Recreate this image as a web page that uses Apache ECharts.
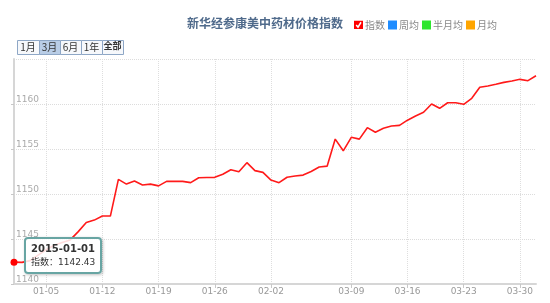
<!DOCTYPE html>
<html>
<head>
<meta charset="utf-8">
<script src="https://cdn.jsdelivr.net/npm/echarts@6/dist/echarts.min.js"></script>
<style>
html,body{margin:0;padding:0;background:#fff;}
#chart{width:550px;height:303px;}
</style>
</head>
<body>
<div id="chart"></div>
<script>
// ---- data ----
var titleText = '新华经参康美中药材价格指数';
var seriesNames = ['指数', '周均', '半月均', '月均'];
var rangeButtons = ['1月', '3月', '6月', '1年', '全部'];
var selectedRange = 1;
var dates = [
  '2015-01-01','2015-01-02','2015-01-03','2015-01-04','2015-01-05','2015-01-06','2015-01-07','2015-01-08',
  '2015-01-09','2015-01-10','2015-01-11','2015-01-12','2015-01-13','2015-01-14','2015-01-15','2015-01-16',
  '2015-01-17','2015-01-18','2015-01-19','2015-01-20','2015-01-21','2015-01-22','2015-01-23','2015-01-24',
  '2015-01-25','2015-01-26','2015-01-27','2015-01-28','2015-01-29','2015-01-30','2015-01-31','2015-02-01',
  '2015-02-02','2015-02-03','2015-02-04','2015-02-05','2015-02-06','2015-03-04','2015-03-05','2015-03-06',
  '2015-03-07','2015-03-08','2015-03-09','2015-03-10','2015-03-11','2015-03-12','2015-03-13','2015-03-14',
  '2015-03-15','2015-03-16','2015-03-17','2015-03-18','2015-03-19','2015-03-20','2015-03-21','2015-03-22',
  '2015-03-23','2015-03-24','2015-03-25','2015-03-26','2015-03-27','2015-03-28','2015-03-29','2015-03-30',
  '2015-03-31','2015-04-01'
];
var indexValues = [
  1142.43,1142.40,1142.60,1143.20,1143.80,1144.30,1144.60,1144.90,
  1145.82,1146.83,1147.10,1147.56,1147.55,1151.63,1151.10,1151.44,
  1151.00,1151.10,1150.90,1151.40,1151.40,1151.40,1151.26,1151.80,
  1151.83,1151.85,1152.20,1152.70,1152.48,1153.48,1152.60,1152.40,
  1151.55,1151.26,1151.86,1152.00,1152.10,1152.50,1153.00,1153.10,
  1156.10,1154.80,1156.30,1156.10,1157.37,1156.86,1157.30,1157.56,
  1157.63,1158.20,1158.67,1159.08,1160.00,1159.52,1160.14,1160.14,
  1159.97,1160.63,1161.86,1162.00,1162.19,1162.40,1162.56,1162.74,
  1162.59,1163.14
];
var tickLabels = ['01-05','01-12','01-19','01-26','02-02','03-09','03-16','03-23','03-30'];
var yMin = 1140, yMax = 1165, yStep = 5;
var highlightIndex = 0;

// ---- chart ----
var chart = echarts.init(document.getElementById('chart'), null, {renderer: 'canvas'});
function isTick(idx, val) { return tickLabels.indexOf(String(val).slice(5)) >= 0; }

var checkSvg = '<svg xmlns="http://www.w3.org/2000/svg" width="18" height="18"><rect width="18" height="18" fill="#ff0000"/><path d="M4.5 9 L8 13.5 L14 3.5" stroke="#ffffff" stroke-width="3" fill="none"/></svg>';
var checkIcon = 'image://data:image/svg+xml;charset=utf-8,' + encodeURIComponent(checkSvg);
var legendColors = ['#ff0000', '#1e8cff', '#2ee62e', '#ffa500'];

var btnX = [17, 39, 60, 81, 102], btnW = [22, 21, 21, 21, 21];
var graphics = [];
rangeButtons.forEach(function (b, i) {
  graphics.push({
    type: 'rect', left: btnX[i], top: 40,
    shape: {width: btnW[i], height: 14},
    style: {fill: i === selectedRange ? '#b9cde6' : '#f6f8fb', stroke: '#8ea7c6', lineWidth: 1}
  });
  graphics.push({
    type: 'text', x: btnX[i] + btnW[i] / 2, y: i === 4 ? 46 : 47,
    style: {text: b, fill: '#333', align: 'center', verticalAlign: 'middle',
      font: (i === 4 ? 'bold 9px' : '10px') + ' "Noto Sans CJK SC"'}
  });
});

var series = [{
  name: seriesNames[0], type: 'line', data: indexValues,
  color: legendColors[0],
  lineStyle: {width: 1.6, color: '#ff1a1a'},
  showSymbol: true, showAllSymbol: true, symbol: 'circle',
  symbolSize: function (v, p) { return p.dataIndex === highlightIndex ? 7 : 0; },
  itemStyle: {color: '#ff0000'},
  emphasis: {disabled: true},
  animation: false, z: 3
}];
for (var s = 1; s < seriesNames.length; s++) {
  series.push({name: seriesNames[s], type: 'line', data: [], color: legendColors[s]});
}

chart.setOption({
  animation: false,
  title: {
    text: titleText, left: 182, top: 12,
    textStyle: {fontSize: 12, fontWeight: 'bold', color: '#4f6a8b', fontFamily: '"Noto Sans CJK SC"'}
  },
  legend: {
    left: 349, top: 15, itemWidth: 9, itemHeight: 9, itemGap: 3,
    data: seriesNames.map(function (n, i) { return i === 0 ? {name: n, icon: checkIcon} : {name: n, icon: 'rect'}; }),
    textStyle: {color: '#888', fontSize: 10, fontFamily: '"Noto Sans CJK SC"', padding: [0, 0, 0, -3]},
    selectedMode: false
  },
  graphic: graphics,
  grid: {left: 14, right: 14, top: 59, bottom: 19, containLabel: false},
  tooltip: {
    trigger: 'item', triggerOn: 'none', alwaysShowContent: true,
    position: [24, 237], transitionDuration: 0,
    backgroundColor: 'rgba(255,255,255,0.85)', borderColor: '#68a5a3', borderWidth: 2,
    padding: [3, 5, 3, 5],
    extraCssText: 'border-radius:4px;box-shadow:1px 1px 3px rgba(0,0,0,0.25);',
    formatter: function (p) {
      return '<div style="font:bold 10px \'DejaVu Sans\';line-height:14px;color:#333">' + p.name + '</div>' +
        '<div style="font:9px \'DejaVu Sans\',\'Noto Sans CJK SC\';line-height:13px;color:#333">' + p.seriesName + '：' + p.value.toFixed(2) + '</div>';
    }
  },
  xAxis: {
    type: 'category', data: dates, boundaryGap: false,
    axisLine: {lineStyle: {color: '#d6d6d6', width: 2}},
    axisTick: {show: true, interval: isTick, length: 4, lineStyle: {color: '#c8c8c8'}},
    axisLabel: {
      interval: isTick, margin: 3, color: '#999', fontSize: 9, fontFamily: '"DejaVu Sans"',
      formatter: function (v) { return v.slice(5); }
    },
    splitLine: {show: true, interval: isTick, lineStyle: {color: '#dedede', type: 'dotted'}}
  },
  yAxis: {
    type: 'value', min: yMin, max: yMax, interval: yStep,
    axisLine: {show: true, lineStyle: {color: '#d6d6d6', width: 2}},
    axisTick: {show: true, length: 3, lineStyle: {color: '#c8c8c8'}},
    axisLabel: {
      inside: true, showMaxLabel: false, margin: 2, color: '#aaa', fontSize: 9,
      fontFamily: '"DejaVu Sans"', verticalAlign: 'bottom', align: 'left',
      formatter: function (v) { return String(v); }
    },
    splitLine: {show: true, lineStyle: {color: '#dcdcdc', type: 'dotted'}}
  },
  series: series
});
chart.dispatchAction({type: 'showTip', seriesIndex: 0, dataIndex: highlightIndex});
</script>
</body>
</html>
